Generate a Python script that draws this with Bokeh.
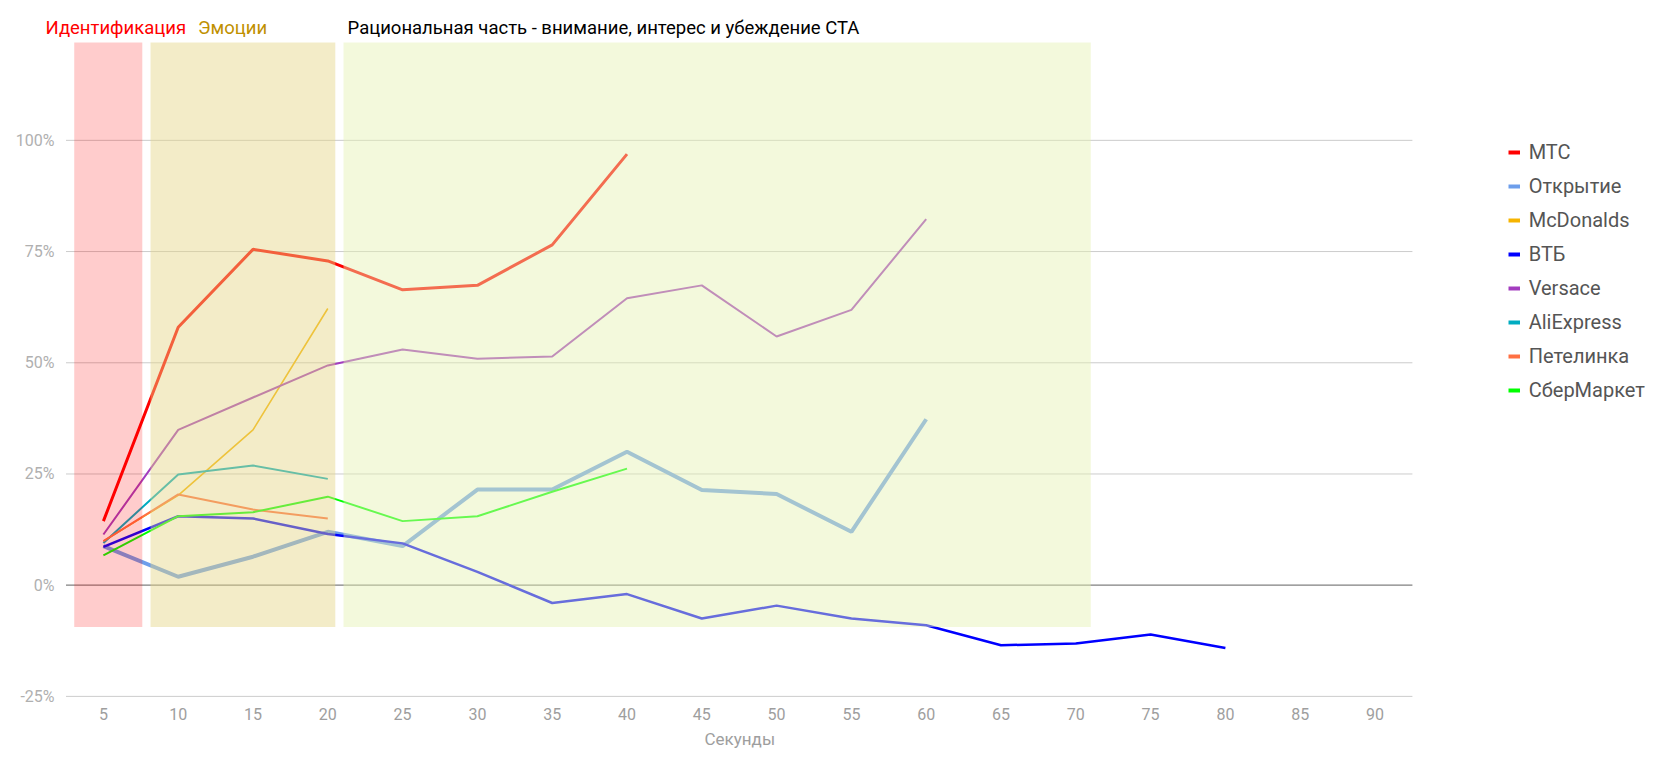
from bokeh.plotting import figure
from bokeh.models import (Range1d, FixedTicker, PrintfTickFormatter, Legend,
                          LegendItem, Label, Title)
from bokeh.embed import file_html
from bokeh.resources import INLINE

# ---------------- data ----------------
seconds = [5, 10, 15, 20, 25, 30, 35, 40, 45, 50, 55, 60, 65, 70, 75, 80]
x_ticks = [5, 10, 15, 20, 25, 30, 35, 40, 45, 50, 55, 60, 65, 70, 75, 80, 85, 90]
y_ticks = [-25, 0, 25, 50, 75, 100]

series_names = ["МТС", "Открытие", "McDonalds", "ВТБ", "Versace", "AliExpress", "Петелинка", "СберМаркет"]
series_colors = ["#ff0000", "#6d9eeb", "#f6b400", "#0000ff", "#a33cbf", "#00acc1", "#ff7043", "#00ff00"]

mts = [14.4, 58.0, 75.5, 72.9, 66.4, 67.4, 76.5, 96.9]
otkrytie = [8.8, 1.9, 6.4, 12.0, 8.8, 21.5, 21.5, 30.0, 21.4, 20.5, 12.0, 37.3]
mcdonalds = [9.9, 20.2, 34.9, 62.2]
vtb = [8.6, 15.5, 15.0, 11.5, 9.4, 3.0, -4.0, -2.0, -7.5, -4.6, -7.5, -9.0, -13.5, -13.1, -11.1, -14.1]
versace = [11.4, 34.9, 42.2, 49.4, 53.0, 50.9, 51.4, 64.5, 67.4, 55.9, 61.9, 82.3]
aliexpress = [9.5, 24.9, 26.9, 23.9]
petelinka = [9.9, 20.4, 17.0, 15.0]
sbermarket = [6.7, 15.5, 16.4, 19.9, 14.4, 15.5, 21.0, 26.2]

series_values = [mts, otkrytie, mcdonalds, vtb, versace, aliexpress, petelinka, sbermarket]
series_widths = [3, 4, 1.6, 2.5, 2, 2, 2, 2]

# phase bands (seconds)
band_labels = ["Идентификация", "Эмоции", "Рациональная часть - внимание, интерес и убеждение СТА"]
band_left = [3.05, 8.15, 21.05]
band_right = [7.6, 20.5, 71.0]
band_bottom = -9.4
band_top = 122
band_colors = ["#ff0000", "#e4d484", "#e4f1b1"]
band_alphas = [0.2, 0.45, 0.45]
label_colors = ["#ff0000", "#bf9000", "#000000"]

x_title = "Секунды"

# ---------------- layout constants ----------------
x_lo, x_hi = 2.5, 92.5          # extent of the plotted area (gridlines)
y_lo = -25.25
label_x = [1.13, 11.33, 21.32]  # starts of phase titles
label_y = 125.37

p = figure(width=1680, height=772, output_backend="svg", toolbar_location=None,
           x_range=Range1d(0.795, 110.42), y_range=Range1d(y_lo, 131.44),
           min_border_left=40, min_border_right=0, min_border_top=0, min_border_bottom=75)
p.outline_line_color = None
p.grid.visible = False

p.xaxis.ticker = FixedTicker(ticks=x_ticks)
p.yaxis.ticker = FixedTicker(ticks=y_ticks)
p.yaxis.formatter = PrintfTickFormatter(format="%d%%")
for ax in (p.xaxis[0], p.yaxis[0]):
    ax.axis_line_color = None
    ax.major_tick_line_color = None
    ax.minor_tick_line_color = None
    ax.major_label_text_font = "Roboto"
    ax.major_label_text_font_size = "16px"
p.xaxis.major_label_text_color = "#9e9e9e"
p.yaxis.major_label_text_color = "#b0b0b0"
p.xaxis.major_label_standoff = 4
p.yaxis.major_label_standoff = -20

# axis title placed under the tick labels, left-aligned at its reference position
p.add_layout(Title(text=x_title, align="left", offset=664, standoff=8,
                   text_font="Roboto", text_font_style="normal", text_font_size="17px",
                   text_color="#9e9e9e"), "below")

# horizontal gridlines over the plotted area
grid_y = [t for t in y_ticks if t != 0]
p.segment(x0=[x_lo] * len(grid_y), x1=[x_hi] * len(grid_y), y0=grid_y, y1=grid_y,
          line_color="#cccccc", line_width=1)
p.segment(x0=[x_lo], x1=[x_hi], y0=[0], y1=[0], line_color="#808080", line_width=1.2)

# lines
for vals, col, w in zip(series_values, series_colors, series_widths):
    p.line(seconds[:len(vals)], vals, line_color=col, line_width=w)

# phase bands drawn over the lines (semi-transparent)
for l, r, c, a in zip(band_left, band_right, band_colors, band_alphas):
    p.quad(left=l, right=r, bottom=band_bottom, top=band_top, fill_color=c, fill_alpha=a, line_color=None)

# phase titles
for txt, lx, lc in zip(band_labels, label_x, label_colors):
    p.add_layout(Label(x=lx, y=label_y, text=txt, text_color=lc, text_font="Roboto",
                       text_font_size="18.5px", text_baseline="middle", text_align="left"))

# legend with thick swatches (proxy renderers on an off-screen range)
p.extra_x_ranges = {"proxy": Range1d(1000, 1001)}
items = []
for name, col, vals in zip(series_names, series_colors, series_values):
    r = p.line(seconds[:len(vals)], vals, line_color=col, line_width=4, x_range_name="proxy")
    items.append(LegendItem(label=name, renderers=[r]))
legend = Legend(items=items, location=(1467.7, 289.7), orientation="vertical",
                glyph_width=12, glyph_height=34, label_height=34, spacing=0,
                padding=0, margin=0, label_standoff=9,
                label_text_font="Roboto", label_text_font_size="20px",
                label_text_color="#555555", border_line_color=None,
                background_fill_alpha=0)
p.add_layout(legend)

open("out.html", "w").write(file_html(p, INLINE))
